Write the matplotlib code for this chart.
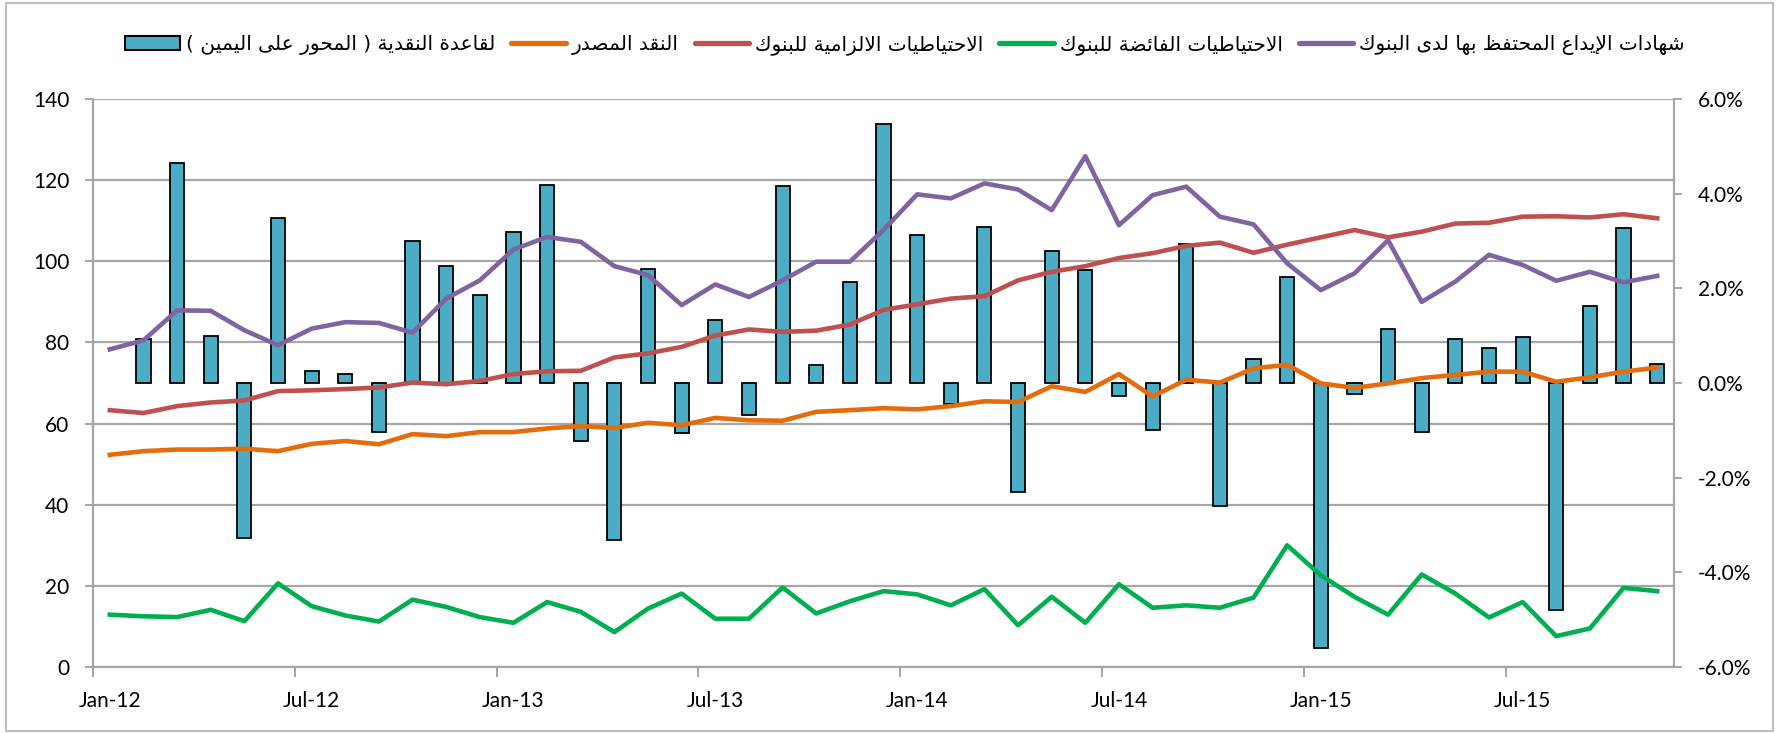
# monetary base chart: bars (growth %, right axis) + four component lines (left axis)
import numpy as np
import matplotlib
matplotlib.use('Agg')
import matplotlib.pyplot as plt
from matplotlib.patches import Patch, Rectangle
from matplotlib.lines import Line2D

# ---- data (Jan-12 .. Nov-15, monthly) ----
tick_labels = ['Jan-12', 'Jul-12', 'Jan-13', 'Jul-13', 'Jan-14', 'Jul-14', 'Jan-15', 'Jul-15']

currency_issued = [52.3, 53.2, 53.6, 53.6, 53.8, 53.2, 55.0, 55.7, 54.9, 57.4,
                   56.9, 57.9, 57.9, 58.8, 59.4, 58.9, 60.2, 59.6, 61.4, 60.8,
                   60.7, 62.9, 63.3, 63.8, 63.5, 64.3, 65.5, 65.3, 69.2, 67.8,
                   72.2, 66.7, 70.8, 70.1, 73.6, 74.5, 69.9, 68.8, 69.9, 71.2,
                   72.0, 72.8, 72.8, 70.3, 71.4, 72.8, 73.8]
required_reserves = [63.3, 62.6, 64.3, 65.2, 65.7, 68.0, 68.2, 68.5, 68.9, 70.1,
                     69.7, 70.5, 72.2, 72.9, 73.0, 76.3, 77.3, 78.9, 81.7, 83.2,
                     82.6, 82.9, 84.4, 88.0, 89.4, 90.8, 91.4, 95.3, 97.4, 98.8,
                     100.8, 102.0, 103.8, 104.6, 102.1, 104.1, 105.9, 107.7, 105.9, 107.3,
                     109.3, 109.5, 111.0, 111.1, 110.8, 111.6, 110.6]
excess_reserves = [12.9, 12.5, 12.3, 14.1, 11.3, 20.6, 15.0, 12.7, 11.2, 16.6,
                   14.8, 12.3, 10.9, 16.0, 13.6, 8.6, 14.4, 18.1, 11.9, 11.9,
                   19.6, 13.2, 16.2, 18.7, 17.9, 15.2, 19.2, 10.3, 17.3, 10.9,
                   20.4, 14.6, 15.2, 14.6, 17.1, 30.0, 22.6, 17.3, 12.9, 22.8,
                   18.1, 12.2, 16.0, 7.6, 9.5, 19.5, 18.7]
deposit_certificates = [78.3, 80.5, 87.9, 87.8, 83.0, 79.3, 83.4, 85.0, 84.8, 82.4,
                        90.8, 95.3, 102.9, 106.0, 104.8, 98.8, 96.6, 89.2, 94.3, 91.2,
                        95.3, 99.9, 99.9, 107.7, 116.5, 115.5, 119.2, 117.7, 112.6, 125.9,
                        108.9, 116.3, 118.4, 111.0, 109.1, 99.5, 92.9, 97.0, 105.2, 90.0,
                        95.0, 101.6, 99.1, 95.2, 97.4, 94.8, 96.4]
# monthly change of the monetary base, % (first month has no value)
base_growth = [np.nan, 0.92, 4.65, 1.00, -3.27, 3.49, 0.25, 0.18, -1.04, 3.00,
               2.48, 1.85, 3.18, 4.18, -1.23, -3.32, 2.40, -1.05, 1.34, -0.68,
               4.16, 0.39, 2.13, 5.47, 3.12, -0.44, 3.29, -2.31, 2.79, 2.38,
               -0.28, -0.99, 2.93, -2.60, 0.51, 2.23, -5.59, -0.23, 1.14, -1.03,
               0.93, 0.75, 0.98, -4.79, 1.63, 3.28, 0.41]

legend_labels = ['لقاعدة النقدية ( المحور على اليمين )',
                 'النقد المصدر',
                 'الاحتياطيات الالزامية للبنوك',
                 'الاحتياطيات الفائضة للبنوك',
                 'شهادات الإيداع المحتفظ بها لدى البنوك']

# ---- minimal Arabic shaping (matplotlib has no bidi / joining support) ----
_forms = {}
for ch, start, n in [('\u0621', 0xFE80, 1), ('\u0622', 0xFE81, 2), ('\u0623', 0xFE83, 2),
                     ('\u0624', 0xFE85, 2), ('\u0625', 0xFE87, 2), ('\u0626', 0xFE89, 4),
                     ('\u0627', 0xFE8D, 2), ('\u0628', 0xFE8F, 4), ('\u0629', 0xFE93, 2),
                     ('\u062A', 0xFE95, 4), ('\u062B', 0xFE99, 4), ('\u062C', 0xFE9D, 4),
                     ('\u062D', 0xFEA1, 4), ('\u062E', 0xFEA5, 4), ('\u062F', 0xFEA9, 2),
                     ('\u0630', 0xFEAB, 2), ('\u0631', 0xFEAD, 2), ('\u0632', 0xFEAF, 2),
                     ('\u0633', 0xFEB1, 4), ('\u0634', 0xFEB5, 4), ('\u0635', 0xFEB9, 4),
                     ('\u0636', 0xFEBD, 4), ('\u0637', 0xFEC1, 4), ('\u0638', 0xFEC5, 4),
                     ('\u0639', 0xFEC9, 4), ('\u063A', 0xFECD, 4), ('\u0641', 0xFED1, 4),
                     ('\u0642', 0xFED5, 4), ('\u0643', 0xFED9, 4), ('\u0644', 0xFEDD, 4),
                     ('\u0645', 0xFEE1, 4), ('\u0646', 0xFEE5, 4), ('\u0647', 0xFEE9, 4),
                     ('\u0648', 0xFEED, 2), ('\u0649', 0xFEEF, 2), ('\u064A', 0xFEF1, 4)]:
    _forms[ch] = [chr(start + k) for k in range(n)] + [None] * (4 - n)
_lamalef = {'\u0622': ('\uFEF5', '\uFEF6'), '\u0623': ('\uFEF7', '\uFEF8'),
            '\u0625': ('\uFEF9', '\uFEFA'), '\u0627': ('\uFEFB', '\uFEFC')}


def shape_arabic(text):
    out = []
    i = 0
    while i < len(text):
        c = text[i]
        if c not in _forms:
            out.append(c)
            i += 1
            continue
        prev = text[i - 1] if i > 0 else ''
        link_prev = prev in _forms and _forms[prev][2] is not None
        if c == '\u0644' and i + 1 < len(text) and text[i + 1] in _lamalef:
            iso, fin = _lamalef[text[i + 1]]
            out.append(fin if link_prev else iso)
            i += 2
            continue
        nxt = text[i + 1] if i + 1 < len(text) else ''
        link_next = _forms[c][2] is not None and nxt in _forms and _forms[nxt][1] is not None
        iso, fin, ini, med = _forms[c]
        if link_prev and link_next:
            out.append(med)
        elif link_prev:
            out.append(fin)
        elif link_next:
            out.append(ini)
        else:
            out.append(iso)
        i += 1
    return ''.join(out)[::-1].translate(str.maketrans('()', ')('))


# ---- styling ----
plt.rcParams['font.family'] = ['Lato', 'DejaVu Sans']
grid_col = '#A6A6A6'
bar_col = '#4BACC6'
col_currency = '#E46C0A'
col_required = '#C0504D'
col_excess = '#00B050'
col_cds = '#8064A2'
lw = 3.3

x = np.arange(len(currency_issued))

fig = plt.figure(figsize=(17.79, 7.33), dpi=100)
ax = fig.add_axes([93 / 1779, 1 - 667 / 733, (1674 - 93) / 1779, (667 - 99) / 733])
ax2 = ax.twinx()   # bars on right (%) axis
ax3 = ax.twinx()   # lines drawn on top of the bars
ax.set_zorder(0)
ax2.set_zorder(1)
ax3.set_zorder(2)
ax2.patch.set_visible(False)

# left axis: grid + ticks
ax.set_xlim(-0.5, len(x) - 0.5)
ax.set_ylim(0, 140)
ax.set_yticks(np.arange(0, 141, 20))
ax.yaxis.grid(True, color=grid_col, linewidth=1.6)
ax.set_axisbelow(True)
for s in ['top', 'right']:
    ax.spines[s].set_visible(False)
for s in ['left', 'bottom']:
    ax.spines[s].set_color(grid_col)
    ax.spines[s].set_linewidth(1.6)
ax.tick_params(axis='y', length=6, width=1.4, color=grid_col, pad=11, labelsize=15)
ax.set_xticks(np.arange(0, len(x), 6))
ax.set_xticklabels(tick_labels)
ax.set_xticks(np.arange(-0.5, len(x), 6), minor=True)
ax.tick_params(axis='x', which='major', length=0, pad=17, labelsize=15)
ax.tick_params(axis='x', which='minor', length=7, width=1.4, color=grid_col)

# right axis: growth bars
ax2.bar(x, base_growth, width=0.42, color=bar_col, edgecolor='black', linewidth=1.3)
ax2.set_ylim(-6, 6)
ax2.set_yticks(np.arange(-6, 6.1, 2))
ax2.set_yticklabels([f'{v:.1f}%' for v in np.arange(-6, 6.1, 2)])
for s in ['top', 'left', 'bottom']:
    ax2.spines[s].set_visible(False)
ax2.spines['right'].set_color(grid_col)
ax2.spines['right'].set_linewidth(1.6)
ax2.tick_params(axis='y', length=6, width=1.4, color=grid_col, pad=11, labelsize=15)

# lines
ax3.set_ylim(0, 140)
ax3.set_axis_off()
ax3.plot(x, currency_issued, color=col_currency, lw=lw, solid_joinstyle='round')
ax3.plot(x, required_reserves, color=col_required, lw=lw, solid_joinstyle='round')
ax3.plot(x, excess_reserves, color=col_excess, lw=lw, solid_joinstyle='round')
ax3.plot(x, deposit_certificates, color=col_cds, lw=lw, solid_joinstyle='round')

# legend
handles = [Patch(facecolor=bar_col, edgecolor='black', linewidth=1.5),
           Line2D([], [], color=col_currency, lw=lw + 0.5, solid_capstyle='round'),
           Line2D([], [], color=col_required, lw=lw + 0.5, solid_capstyle='round'),
           Line2D([], [], color=col_excess, lw=lw + 0.5, solid_capstyle='round'),
           Line2D([], [], color=col_cds, lw=lw + 0.5, solid_capstyle='round')]
fig.legend(handles, [shape_arabic(t) for t in legend_labels], ncol=5,
           loc='center', bbox_to_anchor=(905 / 1779, 1 - 45 / 733), frameon=False,
           prop={'family': 'DejaVu Sans', 'size': 14.5}, handlelength=2.7,
           handleheight=0.72, handletextpad=0.3, columnspacing=0.8)

# outer chart border
fig.patches.append(Rectangle((6 / 1779, 2 / 733), 1767 / 1779, 728 / 733,
                             transform=fig.transFigure, fill=False,
                             edgecolor='#BFBFBF', linewidth=1.5))

fig.savefig('out.png', dpi=100)
